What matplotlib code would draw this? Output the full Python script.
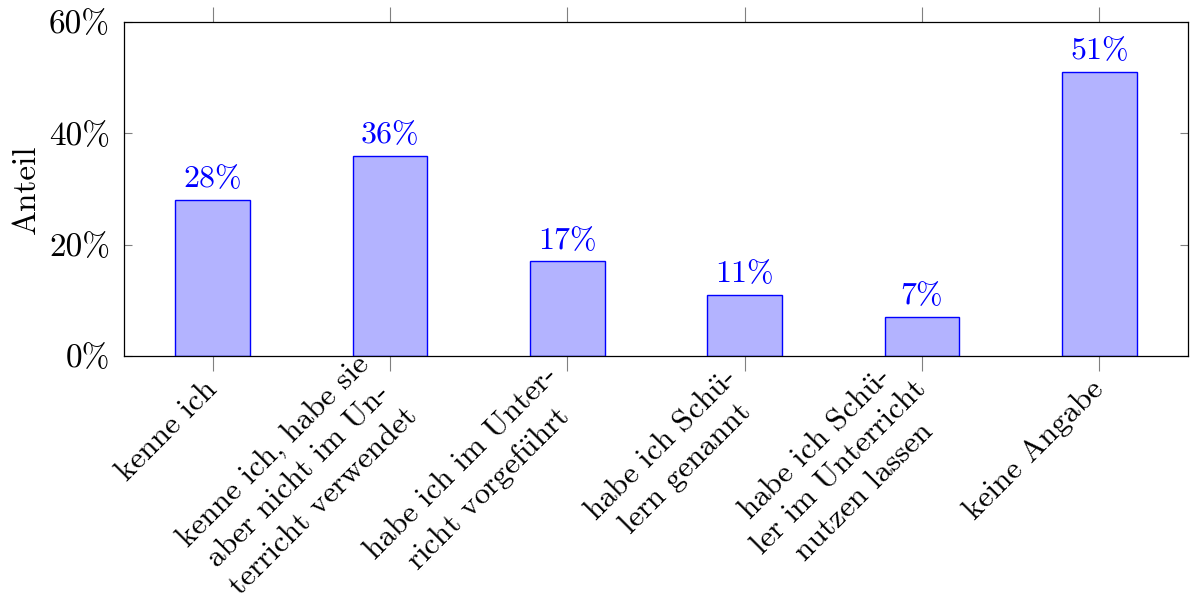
import matplotlib.pyplot as plt
import numpy as np

kategorien = ['kenne ich',
              'kenne ich, habe sie\naber nicht im Un-\nterricht verwendet',
              'habe ich im Unter-\nricht vorgef$\\ddot{\\mathrm{u}}$hrt',
              'habe ich Sch$\\ddot{\\mathrm{u}}$-\nlern genannt',
              'habe ich Sch$\\ddot{\\mathrm{u}}$-\nler im Unterricht\nnutzen lassen',
              'keine Angabe']
anteile = [28, 36, 17, 11, 7, 51]
y_ticks = [0, 20, 40, 60]

plt.rcParams['font.family'] = ['cmr10', 'DejaVu Serif']
plt.rcParams['mathtext.fontset'] = 'cm'

fig = plt.figure(figsize=(11.9, 6.03), dpi=100)
ax = fig.add_axes([124/1190, 1 - 356/603, 1064/1190, 334/603])

x = np.arange(len(kategorien))
ax.bar(x, anteile, width=0.42, color='#b3b3ff', edgecolor='blue', linewidth=1)
for xi, v in zip(x, anteile):
    ax.text(xi, v + 1.2, f'{v}%', color='blue', ha='center', va='bottom', fontsize=23)

ax.set_xlim(-0.5, len(kategorien) - 0.5)
ax.set_ylim(0, 60)
ax.set_yticks(y_ticks)
ax.set_yticklabels([f'{t}%' for t in y_ticks], fontsize=24)
ax.set_xticks(x)
ax.set_xticklabels(kategorien, rotation=45, ha='right', va='center',
                   rotation_mode='anchor', multialignment='center',
                   fontsize=22.5, linespacing=1.3)
ax.tick_params(axis='x', direction='out', length=11, color='gray',
               top=True, pad=10)
ax.tick_params(axis='y', direction='in', length=6, color='gray',
               right=True, pad=10)
ax.set_ylabel('Anteil', fontsize=24, labelpad=6)
for s in ax.spines.values():
    s.set_linewidth(0.9)

fig.savefig('out.png', dpi=100)
